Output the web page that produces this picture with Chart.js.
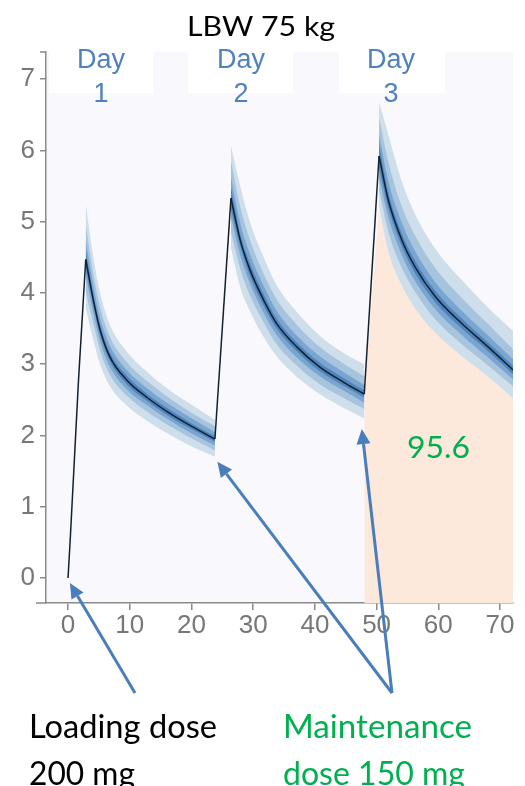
<!DOCTYPE html>
<html>
<head>
<meta charset="utf-8">
<script src="https://cdn.jsdelivr.net/npm/chart.js@4/dist/chart.umd.min.js"></script>
<style>
html,body{margin:0;padding:0;background:#fff;}
canvas{display:block;}
</style>
</head>
<body>
<canvas id="c" width="525" height="786"></canvas>
<script>
// ---- Data (hours, concentration) ----
const riseT = [[0, 0.35, 1.7, 2.87], [23.8, 26.4], [48.0, 50.4]];
const riseC = [[0, 0.53, 2.78, 4.47], [1.95, 5.33], [2.58, 5.92]];

const decayT = [
  [2.87, 4.1, 5.2, 6.8, 9.5, 12.7, 16.5, 20.2, 23.8],
  [26.4, 27.9, 29.5, 31.7, 33.8, 37.1, 40.8, 44.6, 48.0],
  [50.4, 51.9, 54.1, 56.2, 59.5, 63.8, 68.1, 72.1]
];
const medianDecay = [
  [4.47, 3.90, 3.48, 3.10, 2.78, 2.54, 2.31, 2.12, 1.95],
  [5.33, 4.74, 4.32, 3.90, 3.57, 3.24, 2.96, 2.75, 2.58],
  [5.92, 5.30, 4.74, 4.37, 3.95, 3.57, 3.24, 2.92]
];
const outerHi = [
  [5.25, 4.50, 4.00, 3.55, 3.18, 2.90, 2.63, 2.42, 2.22],
  [6.07, 5.50, 4.99, 4.50, 4.11, 3.73, 3.40, 3.16, 3.00],
  [6.68, 6.22, 5.56, 5.11, 4.62, 4.18, 3.79, 3.47]
];
const outerLo = [
  [3.78, 3.34, 3.00, 2.69, 2.42, 2.21, 2.01, 1.84, 1.70],
  [4.63, 4.08, 3.74, 3.38, 3.11, 2.82, 2.58, 2.39, 2.24],
  [5.21, 4.58, 4.10, 3.79, 3.44, 3.11, 2.82, 2.52]
];
const midHi = [
  [4.96, 4.27, 3.80, 3.38, 3.03, 2.77, 2.52, 2.31, 2.13],
  [5.85, 5.21, 4.74, 4.27, 3.91, 3.55, 3.24, 3.01, 2.83],
  [6.45, 5.84, 5.21, 4.81, 4.35, 3.93, 3.56, 3.21]
];
const midLo = [
  [4.02, 3.57, 3.19, 2.85, 2.56, 2.34, 2.13, 1.95, 1.79],
  [4.85, 4.34, 3.96, 3.59, 3.28, 2.98, 2.72, 2.53, 2.37],
  [5.45, 4.86, 4.35, 4.02, 3.63, 3.28, 2.98, 2.69]
];
const innerHi = [
  [4.74, 4.10, 3.65, 3.26, 2.92, 2.67, 2.43, 2.23, 2.05],
  [5.62, 4.98, 4.54, 4.10, 3.75, 3.40, 3.11, 2.89, 2.71],
  [6.22, 5.57, 4.98, 4.59, 4.15, 3.75, 3.40, 3.07]
];
const innerLo = [
  [4.25, 3.72, 3.32, 2.96, 2.65, 2.43, 2.21, 2.02, 1.86],
  [5.07, 4.53, 4.13, 3.72, 3.41, 3.09, 2.83, 2.63, 2.46],
  [5.62, 5.06, 4.53, 4.17, 3.77, 3.41, 3.09, 2.79]
];
const coreHi = [
  [4.60, 3.98, 3.55, 3.16, 2.84, 2.59, 2.36, 2.16, 1.99],
  [5.48, 4.83, 4.41, 3.98, 3.64, 3.30, 3.02, 2.81, 2.63],
  [6.08, 5.41, 4.83, 4.46, 4.03, 3.64, 3.30, 2.98]
];
const coreLo = [
  [4.34, 3.82, 3.41, 3.04, 2.72, 2.49, 2.26, 2.08, 1.91],
  [5.18, 4.65, 4.23, 3.82, 3.50, 3.18, 2.90, 2.70, 2.53],
  [5.75, 5.19, 4.65, 4.28, 3.87, 3.50, 3.18, 2.86]
];
const aucT = [48.0, 50.4, 51.9, 54.1, 56.2, 59.5, 63.8, 68.1, 72.1];
const aucC = [2.58, 5.21, 4.58, 4.10, 3.79, 3.44, 3.11, 2.82, 2.52];

const dayLabels = ['1', '2', '3'];
const aucLabel = '95.6';
const titleText = 'LBW 75 kg';
// arrow tips in data units [hour, conc]
const arrowTips = [[0.3, -0.07], [24.2, 1.63], [47.6, 2.09]];

// ---- Build datasets ----
const pts = (ts, cs) => ts.map((t, i) => ({x: t, y: cs[i]}));
const datasets = [];

const bandDefs = [
  {hi: outerHi, lo: outerLo, color: '#cedeeb', order: 50},
  {hi: midHi, lo: midLo, color: '#a7c4df', order: 40},
  {hi: innerHi, lo: innerLo, color: '#7aa5d0', order: 30},
  {hi: coreHi, lo: coreLo, color: '#4f84bd', order: 20}
];

// AUC area (peach)
datasets.push({
  data: pts(aucT, aucC), borderWidth: 0, borderColor: 'transparent',
  backgroundColor: '#fde9dc', fill: 'start', pointRadius: 0, tension: 0, order: 100
});

for (const b of bandDefs) {
  for (let d = 0; d < 3; d++) {
    datasets.push({
      data: pts(decayT[d], b.hi[d]), borderWidth: 0, borderColor: 'transparent',
      pointRadius: 0, fill: false, cubicInterpolationMode: 'monotone', order: b.order
    });
    datasets.push({
      data: pts(decayT[d], b.lo[d]), borderWidth: 0, borderColor: 'transparent',
      backgroundColor: b.color, pointRadius: 0, fill: '-1',
      cubicInterpolationMode: 'monotone', order: b.order
    });
  }
}
for (let d = 0; d < 3; d++) {
  datasets.push({
    data: pts(riseT[d], riseC[d]), borderColor: '#13202e', borderWidth: 1.5,
    pointRadius: 0, fill: false, tension: 0, order: 0
  });
  datasets.push({
    data: pts(decayT[d], medianDecay[d]), borderColor: '#13202e', borderWidth: 1.5,
    pointRadius: 0, fill: false, cubicInterpolationMode: 'monotone', order: 0
  });
}

function drawStretched(ctx, str, left, baseline, font, color, targetW) {
  ctx.save();
  ctx.font = font;
  const w = ctx.measureText(str).width;
  ctx.translate(left, baseline);
  ctx.scale(targetW / w, 1);
  ctx.fillStyle = color;
  ctx.textAlign = 'left';
  ctx.textBaseline = 'alphabetic';
  ctx.fillText(str, 0, 0);
  ctx.restore();
}

const decor = {
  id: 'decor',
  beforeDraw(chart) {
    const ctx = chart.ctx, a = chart.chartArea;
    ctx.save();
    ctx.fillStyle = '#ffffff';
    ctx.fillRect(0, 0, chart.width, chart.height);
    ctx.fillStyle = '#f9f9fd';
    ctx.fillRect(a.left, a.top, a.right - a.left, a.bottom - a.top);
    ctx.fillStyle = '#ffffff';
    const boxes = [[49, 153], [188, 293], [339, 445]];
    for (const [l, r] of boxes) ctx.fillRect(l, a.top, r - l, 41);
    ctx.restore();
  },
  afterDraw(chart) {
    const ctx = chart.ctx, a = chart.chartArea;
    const xs = chart.scales.x, ys = chart.scales.y;
    ctx.save();
    // axis extensions
    ctx.strokeStyle = '#8a8a8a';
    ctx.lineWidth = 1.5;
    ctx.beginPath();
    ctx.moveTo(36, a.bottom); ctx.lineTo(a.left, a.bottom);
    ctx.moveTo(40, a.top); ctx.lineTo(a.left, a.top);
    ctx.stroke();

    // Title
    drawStretched(ctx, titleText, 187, 36, '27px Lato', '#000000', 148);

    // Day labels
    ctx.fillStyle = '#4f81bd';
    ctx.font = '27px "Liberation Sans", Arial, sans-serif';
    ctx.textAlign = 'center';
    ctx.textBaseline = 'alphabetic';
    const centers = [101, 241, 391];
    for (let i = 0; i < 3; i++) {
      ctx.fillText('Day', centers[i], 68);
      ctx.fillText(dayLabels[i], centers[i], 102);
    }

    // AUC label
    drawStretched(ctx, aucLabel, 407, 458, '30px Lato', '#00b050', 63);

    // Arrows
    const tails = [[135, 693], [392, 693], [392, 693]];
    ctx.strokeStyle = '#4a7ebb';
    ctx.fillStyle = '#4a7ebb';
    ctx.lineWidth = 3;
    for (let i = 0; i < 3; i++) {
      const tx = xs.getPixelForValue(arrowTips[i][0]);
      const ty = ys.getPixelForValue(arrowTips[i][1]);
      const [sx, sy] = tails[i];
      const ang = Math.atan2(ty - sy, tx - sx);
      const L = 15, W = 7;
      const bx = tx - L * Math.cos(ang), by = ty - L * Math.sin(ang);
      ctx.beginPath();
      ctx.moveTo(sx, sy); ctx.lineTo(bx, by);
      ctx.stroke();
      ctx.beginPath();
      ctx.moveTo(tx, ty);
      ctx.lineTo(bx + W * Math.sin(ang), by - W * Math.cos(ang));
      ctx.lineTo(bx - W * Math.sin(ang), by + W * Math.cos(ang));
      ctx.closePath();
      ctx.fill();
    }

    // Bottom texts
    drawStretched(ctx, 'Loading dose', 29, 738, '32px Lato', '#000000', 188);
    drawStretched(ctx, '200 mg', 29, 785, '32px Lato', '#000000', 106);
    drawStretched(ctx, 'Maintenance', 283, 738, '32px Lato', '#00b050', 189);
    drawStretched(ctx, 'dose 150 mg', 283, 785, '32px Lato', '#00b050', 182);
    ctx.restore();
  }
};

const tickFont = {family: '"Liberation Sans", Arial, sans-serif', size: 26};

new Chart(document.getElementById('c'), {
  type: 'line',
  data: {datasets},
  options: {
    responsive: false,
    animation: false,
    devicePixelRatio: 1,
    layout: {padding: {top: 52, right: 12, bottom: 143, left: 0}},
    plugins: {legend: {display: false}, tooltip: {enabled: false}, title: {display: false}},
    scales: {
      x: {
        type: 'linear', min: -3.57, max: 72.1,
        ticks: {stepSize: 10, includeBounds: false, color: '#777777', font: tickFont, padding: 0, maxRotation: 0},
        grid: {drawOnChartArea: false, drawTicks: true, tickLength: 7, color: '#8a8a8a', lineWidth: 1.5},
        border: {display: true, color: '#8a8a8a', width: 1.5},
        afterFit(s) { s.height = 40; }
      },
      y: {
        type: 'linear', min: -0.35, max: 7.38,
        ticks: {stepSize: 1, includeBounds: false, color: '#777777', font: tickFont, padding: 5},
        grid: {drawOnChartArea: false, drawTicks: true, tickLength: 6, color: '#8a8a8a', lineWidth: 1.5},
        border: {display: true, color: '#8a8a8a', width: 1.5},
        afterFit(s) { s.width = 46; }
      }
    }
  },
  plugins: [decor]
});
</script>
</body>
</html>
